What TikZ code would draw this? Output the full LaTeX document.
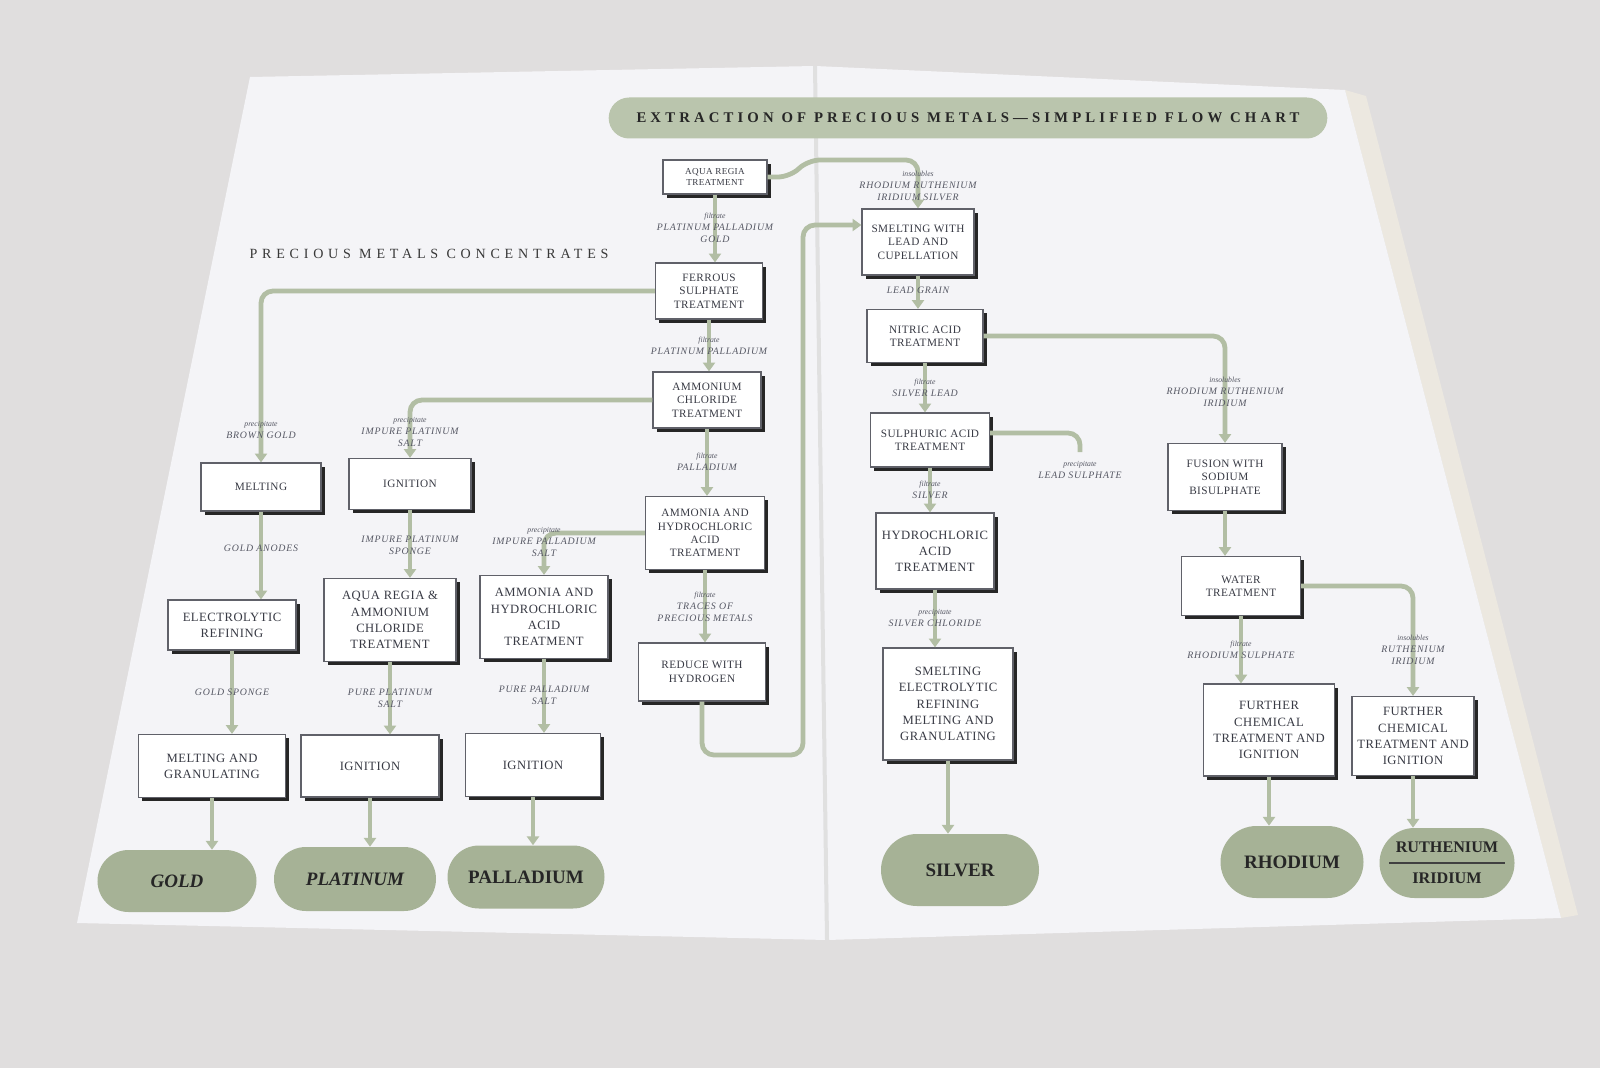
\documentclass[tikz,border=0pt]{standalone}
\usepackage{fontspec}
\setmainfont{Liberation Serif}
\usetikzlibrary{arrows.meta}
\usetikzlibrary{shapes.misc}
\usetikzlibrary{shadows}

\definecolor{flowgreen}{RGB}{178,190,164}
\definecolor{pillsage}{RGB}{166,178,150}
\definecolor{inkgrey}{RGB}{56,58,68}
\definecolor{labgrey}{RGB}{86,88,100}
\definecolor{tablegrey}{RGB}{224,222,222}
\definecolor{paper}{RGB}{244,244,247}
\definecolor{pagestack}{RGB}{236,232,224}

\newcommand{\lbltype}[1]{{\fontsize{5.5}{7}\selectfont\addfontfeature{LetterSpace=0}#1}}

\tikzset{
	proc/.style={draw=inkgrey!80, line width=0.3mm, fill=white, align=center, text=inkgrey, inner sep=1mm,
		font=\fontsize{8}{9.5}\selectfont\addfontfeature{LetterSpace=4},
		drop shadow={shadow xshift=0.9mm, shadow yshift=-0.9mm, fill=black!85, opacity=1}},
	procbig/.style={proc, font=\fontsize{9}{11.5}\selectfont\addfontfeature{LetterSpace=4}},
	metal/.style={rounded rectangle, fill=pillsage, text=black!85, inner sep=1mm, align=center,
		font=\fontsize{13.5}{15}\selectfont\bfseries},
	lab/.style={align=center, text=labgrey, inner sep=0pt,
		font=\fontsize{7}{8.5}\selectfont\itshape\addfontfeature{LetterSpace=8}},
	flow/.style={draw=flowgreen, line width=1.2mm, rounded corners=3mm,
		-{Triangle[length=2.2mm, width=3mm]}},
	flowend/.style={draw=flowgreen, line width=1.2mm, rounded corners=3mm},
	banner/.style={rounded rectangle, fill=flowgreen!90, text=black!85, minimum width=182mm, minimum height=10.25mm,
		font=\fontsize{10.5}{12}\selectfont\bfseries\addfontfeature{LetterSpace=28}},
	heading/.style={text=black!78, font=\fontsize{10}{11}\selectfont\addfontfeature{LetterSpace=34}}
}

\begin{document}
\begin{tikzpicture}[x=0.25mm, y=-0.25mm]

	%Table and the open book
	\fill[tablegrey] (0,0) rectangle (1600,1068);
	\fill[pagestack] (1345,90) -- (1366,96) -- (1578,915) -- (1561,918) -- cycle;
	\fill[paper] (250,77) -- (815,66) -- (1345,90) -- (1561,918) -- (827,940) -- (77,923) -- cycle;
	\draw[black!12, line width=1mm] (815,66) -- (827,940);

	%Titles
	\node[banner] (title) at (968,118) {EXTRACTION OF PRECIOUS METALS—SIMPLIFIED FLOW CHART};
	\node[heading] (conc) at (429,254) {PRECIOUS METALS CONCENTRATES};

	%Main column
	\node[proc, minimum width=26mm, minimum height=8.5mm, font=\fontsize{6.5}{7.5}\selectfont\addfontfeature{LetterSpace=4}] (aqua) at (715,177) {AQUA REGIA\\TREATMENT};
	\node[proc, minimum width=26.75mm, minimum height=14mm] (ferrous) at (709,291) {FERROUS\\SULPHATE\\TREATMENT};
	\node[proc, minimum width=27mm, minimum height=14mm] (ammon) at (707,400) {AMMONIUM\\CHLORIDE\\TREATMENT};
	\node[proc, minimum width=29.75mm, minimum height=18.25mm] (ammhcl) at (705,533) {AMMONIA AND\\HYDROCHLORIC\\ACID\\TREATMENT};
	\node[proc, minimum width=31.75mm, minimum height=14.5mm] (reduce) at (702,672) {REDUCE WITH\\HYDROGEN};

	%Gold, platinum and palladium
	\node[proc, minimum width=30mm, minimum height=12mm] (melting) at (261,487) {MELTING};
	\node[proc, minimum width=30.5mm, minimum height=12.75mm] (ign1) at (410,484) {IGNITION};
	\node[procbig, minimum width=32mm, minimum height=12.5mm] (elec) at (232,625) {ELECTROLYTIC\\REFINING};
	\node[procbig, minimum width=33mm, minimum height=20.75mm] (arac) at (390,620) {AQUA REGIA \&\\AMMONIUM\\CHLORIDE\\TREATMENT};
	\node[procbig, minimum width=32mm, minimum height=20.75mm] (ammpd) at (544,617) {AMMONIA AND\\HYDROCHLORIC\\ACID\\TREATMENT};
	\node[procbig, minimum width=36.75mm, minimum height=15.75mm] (meltgran) at (212,766) {MELTING AND\\GRANULATING};
	\node[procbig, minimum width=34.5mm, minimum height=15.5mm] (ign2) at (370,766) {IGNITION};
	\node[procbig, minimum width=33.75mm, minimum height=15.75mm] (ign3) at (533,765) {IGNITION};

	%Silver, rhodium, ruthenium and iridium
	\node[proc, minimum width=28mm, minimum height=16.5mm] (smelt) at (918,242) {SMELTING WITH\\LEAD AND\\CUPELLATION};
	\node[proc, minimum width=29mm, minimum height=13.25mm] (nitric) at (925,336) {NITRIC ACID\\TREATMENT};
	\node[proc, minimum width=29.75mm, minimum height=13.5mm] (sulph) at (930,440) {SULPHURIC ACID\\TREATMENT};
	\node[procbig, minimum width=29.5mm, minimum height=19mm] (hcl) at (935,551) {HYDROCHLORIC\\ACID\\TREATMENT};
	\node[procbig, minimum width=32.5mm, minimum height=28mm] (smelt2) at (948,704) {SMELTING\\ELECTROLYTIC\\REFINING\\MELTING AND\\GRANULATING};
	\node[proc, minimum width=28.5mm, minimum height=16.75mm] (fusion) at (1225,477) {FUSION WITH\\SODIUM\\BISULPHATE};
	\node[proc, minimum width=29.75mm, minimum height=14.75mm] (water) at (1241,586) {WATER\\TREATMENT};
	\node[procbig, minimum width=32.75mm, minimum height=23mm] (further1) at (1269,730) {FURTHER\\CHEMICAL\\TREATMENT AND\\IGNITION};
	\node[procbig, minimum width=30.5mm, minimum height=19.75mm] (further2) at (1413,736) {FURTHER\\CHEMICAL\\TREATMENT AND\\IGNITION};

	%End products
	\node[metal, minimum width=41.75mm, minimum height=15.5mm] (gold) at (177,881) {\itshape GOLD};
	\node[metal, minimum width=42.5mm, minimum height=16mm] (plat) at (355,879) {\itshape PLATINUM};
	\node[metal, minimum width=41.25mm, minimum height=15.75mm] (pall) at (526,877) {PALLADIUM};
	\node[metal, minimum width=41.5mm, minimum height=18mm] (silver) at (960,870) {SILVER};
	\node[metal, minimum width=37.75mm, minimum height=18mm] (rhodium) at (1292,862) {RHODIUM};
	\node[metal, minimum width=35.75mm, minimum height=17.5mm, font=\fontsize{11.5}{13.5}\selectfont\bfseries] (rui) at (1447,863) {RUTHENIUM\\[3mm]IRIDIUM};
	\draw[black!75, line width=0.5mm] ([xshift=2.5mm]rui.west) -- ([xshift=-2.5mm]rui.east);

	%Connectors
	\coordinate (loopbot) at (803,755);
	\coordinate (looptop) at (803,225);
	\coordinate (leadend) at (1080,452);
	\draw[flow] (aqua.south) -- (aqua.south |- ferrous.north);
	\draw[flow] (aqua.east) -- (790,177) -- (808,160) -| (smelt.north);
	\draw[flow] (ferrous.west) -| (melting.north);
	\draw[flow] (ferrous.south) -- (ferrous.south |- ammon.north);
	\draw[flow] (ammon.west) -| (ign1.north);
	\draw[flow] (ammon.south) -- (ammon.south |- ammhcl.north);
	\draw[flow] (ammhcl.west) -| (ammpd.north);
	\draw[flow] (ammhcl.south) -- (ammhcl.south |- reduce.north);
	\draw[flow] (reduce.south) |- (loopbot) -- (looptop) -- (looptop -| smelt.west);
	\draw[flow] (melting.south) -- (melting.south |- elec.north);
	\draw[flow] (elec.south) -- (elec.south |- meltgran.north);
	\draw[flow] (meltgran.south) -- (meltgran.south |- gold.north);
	\draw[flow] (ign1.south) -- (ign1.south |- arac.north);
	\draw[flow] (arac.south) -- (arac.south |- ign2.north);
	\draw[flow] (ign2.south) -- (ign2.south |- plat.north);
	\draw[flow] (ammpd.south) -- (ammpd.south |- ign3.north);
	\draw[flow] (ign3.south) -- (ign3.south |- pall.north);
	\draw[flow] (smelt.south) -- (smelt.south |- nitric.north);
	\draw[flow] (nitric.south) -- (nitric.south |- sulph.north);
	\draw[flow] (nitric.east) -| (fusion.north);
	\draw[flowend] ([yshift=1.75mm]sulph.east) -| (leadend);
	\draw[flow] (sulph.south) -- (sulph.south |- hcl.north);
	\draw[flow] (hcl.south) -- (hcl.south |- smelt2.north);
	\draw[flow] (smelt2.south) -- (smelt2.south |- silver.north);
	\draw[flow] (fusion.south) -- (fusion.south |- water.north);
	\draw[flow] (water.south) -- (water.south |- further1.north);
	\draw[flow] (water.east) -| (further2.north);
	\draw[flow] (further1.south) -- (further1.south |- rhodium.north);
	\draw[flow] (further2.south) -- (further2.south |- rui.north);

	%Labels on the connectors
	\node[lab] (l1) at (715,228) {\lbltype{filtrate}\\PLATINUM PALLADIUM\\GOLD};
	\node[lab] (l2) at (709,346) {\lbltype{filtrate}\\PLATINUM PALLADIUM};
	\node[lab] (l3) at (707,462) {\lbltype{filtrate}\\PALLADIUM};
	\node[lab] (l4) at (705,607) {\lbltype{filtrate}\\TRACES OF\\PRECIOUS METALS};
	\node[lab] (l5) at (261,430) {\lbltype{precipitate}\\BROWN GOLD};
	\node[lab] (l6) at (410,432) {\lbltype{precipitate}\\IMPURE PLATINUM\\SALT};
	\node[lab] (l7) at (261,548) {GOLD ANODES};
	\node[lab] (l8) at (410,545) {IMPURE PLATINUM\\SPONGE};
	\node[lab] (l9) at (544,542) {\lbltype{precipitate}\\IMPURE PALLADIUM\\SALT};
	\node[lab] (l10) at (232,692) {GOLD SPONGE};
	\node[lab] (l11) at (390,698) {PURE PLATINUM\\SALT};
	\node[lab] (l12) at (544,695) {PURE PALLADIUM\\SALT};
	\node[lab] (l13) at (918,186) {\lbltype{insolubles}\\RHODIUM RUTHENIUM\\IRIDIUM SILVER};
	\node[lab] (l14) at (918,290) {LEAD GRAIN};
	\node[lab] (l15) at (925,388) {\lbltype{filtrate}\\SILVER LEAD};
	\node[lab] (l16) at (930,490) {\lbltype{filtrate}\\SILVER};
	\node[lab] (l17) at (935,618) {\lbltype{precipitate}\\SILVER CHLORIDE};
	\node[lab] (l18) at (1080,470) {\lbltype{precipitate}\\LEAD SULPHATE};
	\node[lab] (l19) at (1225,392) {\lbltype{insolubles}\\RHODIUM RUTHENIUM\\IRIDIUM};
	\node[lab] (l20) at (1241,650) {\lbltype{filtrate}\\RHODIUM SULPHATE};
	\node[lab] (l21) at (1413,650) {\lbltype{insolubles}\\RUTHENIUM\\IRIDIUM};

\end{tikzpicture}
\end{document}
